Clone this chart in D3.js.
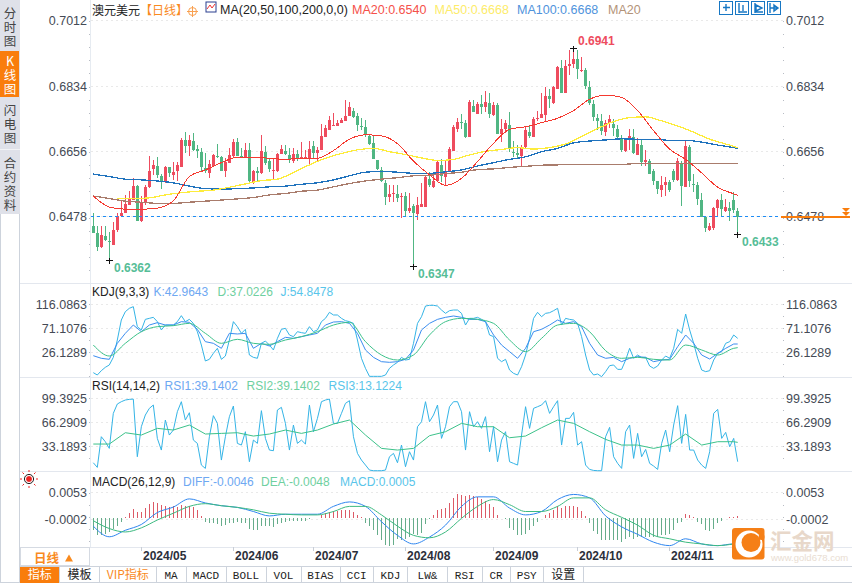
<!DOCTYPE html>
<html>
<head>
<meta charset="utf-8">
<style>
  html, body { margin: 0; padding: 0; background: #fff; overflow: hidden; }
  text { font-family: "Liberation Sans", Arial, sans-serif; }
  .cjk { font-family: "Noto Sans CJK SC", "Liberation Sans", sans-serif; }
  .side { writing-mode: vertical-rl; text-orientation: upright; letter-spacing: 1.5px; }
</style>
<script src="https://cdnjs.cloudflare.com/ajax/libs/d3/7.8.5/d3.min.js"></script>
</head>
<body>
<div id="chart"></div>
<script>
// prices are in 1/10000 of a dollar, macd values too
var opens = [6457,6438,6399,6429,6416,6405,6444,6484,6493,6514,
  6526,6564,6470,6518,6563,6612,6620,6593,6576,6616,
  6596,6605,6618,6691,6675,6688,6667,6657,6614,6602,
  6621,6648,6644,6607,6627,6646,6685,6648,6643,6664,
  6577,6607,6600,6659,6634,6607,6606,6652,6661,6650,
  6634,6652,6639,6641,6639,6674,6654,6664,6700,6718,
  6732,6729,6736,6743,6756,6770,6756,6729,6725,6703,
  6682,6636,6608,6574,6534,6544,6544,6534,6538,6498,
  6511,6489,6509,6509,6584,6563,6579,6622,6591,6604,
  6661,6722,6739,6736,6698,6783,6763,6789,6780,6793,
  6759,6786,6707,6721,6731,6658,6654,6647,6671,6712,
  6700,6747,6750,6759,6811,6792,6831,6888,6820,6892,
  6898,6911,6879,6881,6835,6789,6752,6742,6713,6736,
  6734,6720,6695,6661,6692,6698,6650,6677,6631,6633,
  6606,6580,6554,6568,6576,6606,6581,6627,6562,6672,
  6572,6568,6527,6481,6445,6452,6504,6527,6498,6505,
  6527,6497];
var closes = [6438,6400,6432,6418,6414,6446,6484,6491,6517,6530,
  6564,6471,6520,6563,6607,6623,6596,6576,6617,6602,
  6604,6623,6691,6675,6691,6664,6661,6618,6605,6626,
  6650,6644,6607,6632,6650,6685,6646,6644,6664,6580,
  6607,6602,6662,6627,6612,6610,6652,6666,6652,6639,
  6652,6643,6644,6644,6666,6654,6664,6703,6723,6745,
  6733,6736,6745,6757,6780,6754,6732,6727,6704,6680,
  6639,6612,6579,6535,6544,6545,6532,6538,6498,6505,
  6491,6514,6516,6591,6568,6579,6631,6592,6606,6666,
  6725,6741,6736,6700,6795,6767,6789,6780,6795,6761,
  6786,6707,6721,6738,6665,6654,6649,6671,6718,6701,
  6748,6751,6761,6811,6804,6836,6889,6820,6892,6898,
  6911,6884,6883,6839,6793,6754,6743,6715,6736,6747,
  6724,6698,6663,6692,6701,6656,6680,6631,6636,6598,
  6580,6556,6568,6576,6554,6581,6633,6565,6674,6580,
  6571,6530,6480,6450,6456,6506,6527,6502,6507,6497,
  6500,6481];
var highs = [6491,6455,6455,6455,6441,6468,6491,6527,6541,6552,
  6588,6568,6537,6567,6647,6637,6644,6598,6621,6618,
  6630,6630,6696,6712,6705,6709,6677,6668,6655,6637,
  6652,6679,6646,6641,6670,6694,6697,6668,6682,6682,
  6609,6618,6704,6674,6641,6641,6654,6677,6677,6670,
  6668,6663,6686,6663,6688,6688,6672,6734,6732,6757,
  6764,6745,6750,6800,6795,6779,6765,6750,6745,6706,
  6703,6636,6618,6582,6568,6568,6568,6547,6550,6545,
  6516,6536,6573,6595,6604,6604,6636,6640,6633,6672,
  6732,6750,6761,6745,6800,6801,6795,6813,6824,6818,
  6795,6791,6747,6745,6767,6689,6677,6677,6725,6731,
  6754,6771,6820,6836,6829,6838,6893,6909,6909,6936,
  6941,6936,6916,6886,6851,6800,6763,6761,6745,6759,
  6747,6731,6704,6695,6721,6722,6695,6691,6663,6640,
  6613,6580,6592,6591,6581,6613,6641,6634,6689,6677,
  6598,6577,6545,6483,6463,6509,6531,6543,6531,6522,
  6550,6504];
var lows = [6438,6388,6397,6416,6362,6405,6441,6482,6493,6514,
  6526,6471,6466,6514,6559,6596,6587,6557,6573,6591,
  6582,6579,6618,6655,6648,6661,6643,6607,6600,6588,
  6618,6641,6607,6591,6627,6641,6646,6641,6641,6577,
  6571,6577,6597,6623,6603,6584,6604,6652,6650,6629,
  6627,6634,6639,6639,6620,6639,6634,6664,6700,6718,
  6731,6729,6736,6743,6756,6752,6716,6718,6700,6677,
  6639,6609,6575,6514,6521,6523,6523,6479,6482,6491,
  6347,6473,6509,6509,6563,6561,6577,6577,6565,6604,
  6661,6713,6722,6695,6698,6767,6761,6763,6766,6751,
  6757,6707,6684,6709,6659,6645,6643,6620,6670,6695,
  6700,6743,6750,6741,6777,6790,6831,6820,6820,6868,
  6886,6857,6875,6830,6786,6742,6718,6704,6701,6724,
  6701,6695,6659,6659,6663,6652,6650,6620,6621,6598,
  6568,6543,6536,6538,6550,6577,6580,6511,6562,6563,
  6550,6513,6480,6441,6443,6445,6481,6481,6495,6471,
  6491,6433];

// moving averages, read every 4th candle plus the last one
var ma20 = [6538,6508,6502,6502,6505,6525,6591,6609,6629,6644,6644,6641,6638,6641,6641,6662,6693,6705,6702,6681,6633,
  6596,6567,6586,6632,6682,6720,6727,6738,6750,6771,6802,6813,6807,6771,6716,6666,6638,6601,6562,6544,6540];
// ma50 begins later, on candle 6
var ma50 = [6531,6531,6533,6541,6547,6551,6554,6562,6571,6580,6584,6602,6623,6641,6654,6664,6668,6659,6651,6642,
  6635,6638,6650,6660,6665,6670,6666,6670,6680,6700,6722,6741,6752,6754,6743,6729,6712,6693,6680,6670];
var ma100 = [6598,6591,6584,6582,6579,6574,6565,6558,6557,6558,6560,6563,6565,6570,6574,6582,6593,6603,6605,6603,6600,
  6600,6604,6609,6620,6629,6638,6645,6659,6668,6683,6688,6691,6694,6693,6693,6690,6690,6685,6677,6670,6668];
var ma200 = [6538,6531,6524,6521,6518,6518,6521,6524,6527,6530,6534,6541,6545,6551,6554,6563,6572,6579,6584,6588,6593,
  6595,6599,6603,6610,6612,6616,6619,6622,6623,6624,6624,6624,6624,6627,6627,6627,6627,6627,6627,6627,6627];

var kdjJ = [-12.6,-17,-8.9,-2.6,1.8,16.1,48.6,86.1,101.7,108,111.1,73.6,67.4,87.3,89.2,91.1,83,67.4,76.7,76.7,
  76.7,83,94.2,83,87.3,79.8,64.2,39.2,9.3,12.4,23.6,33,12.4,18.6,48.6,83,73.6,61.1,68.6,20.5,
  16.1,14.3,42.4,46.7,39.2,29.9,51.7,68.6,70.5,
  58,54.9,64.2,62.4,61.1,73.6,64.2,67.4,83,89.2,100.5,95.5,95.5,89.2,84.8,83,79.8,48.6,14.3,-4.5,
  -19.5,-19.5,-19.5,-19.5,-17,-4.5,1.8,6.8,16.1,11.1,12.4,42.4,79.8,92.3,112.3,113.6,113.6,112.3,104.8,98.6,
  103.6,104.8,104.8,98.6,76.7,89.2,89.2,91.1,87.3,83,58,54.9,14.3,8,12.4,-7.6,-13.9,-17,-1.4,20.5,
  51.7,89.2,100.5,92.3,98.6,99.8,103.6,108,76.7,89.2,
  87.3,86.1,79.8,54.9,20.5,-7.6,-17,-15.1,-20.1,-10.7,0.5,1.8,-6.4,-6.4,11.1,33,14.3,20.5,15.5,16.1,
  -0.1,-4.5,-0.1,11.1,18.6,14.3,33,68.6,61.1,97.3,67.4,42.4,14.3,-7.6,-10.7,-8.9,11.1,23.6,26.8,42.4,45.5,58,51.7];
// K is read every 2nd candle plus the last one
var kdjK = [19.2,14.3,12.4,42.4,61.1,76.7,64.2,76.7,81.1,76.7,76.7,83,81.7,68.6,45.5,42.4,33,61.1,59.9,61.1,33,42.4,37.4,45.5,53.6,
  51.7,54.9,58,61.1,76.7,82.3,83,79.8,61.1,29.9,16.1,8,6.8,8,12.4,29.9,67.4,79.8,87.3,91.1,93.6,91.1,87.3,87.3,83,58,39.2,26.8,14.3,33,64.2,68.6,76.7,86.1,79.8,
  83,73.6,42.4,20.5,14.3,16.1,8,14.3,17.4,16.1,8,11.1,12.4,36.1,58,42.4,20.5,13,23.6,33,41.1,41.1];
// D every 4th candle plus the last one
var kdjD = [39.2,18.6,42.4,64.2,73.6,75.5,79.8,61.1,42.4,49.9,42.4,40.5,48.6,
  54.9,64.2,76.7,81.7,45.5,20.5,11.1,20.5,58,83,89.2,87.3,79.8,48.6,26.8,51.7,76.7,
  79.8,64.2,28.6,14.3,16.1,12.4,11.1,39.2,29.9,20.5,33,34.3];

var rsi3 = [10.1,3.7,46,39.1,29.9,78.2,91.1,94.3,96.6,97.5,97.9,18.4,59.8,75.9,85.1,89.7,43.7,27.6,69,48.3,
  55.2,80.5,94.3,69,79.1,41.4,36.8,6.9,2.3,46,75,64.4,13.8,46,73.6,88.3,36.8,34.5,52.9,11.5,
  41.4,36.8,81.9,43.7,27.6,26.7,82.8,86.5,64.4,
  27.6,62.1,36.8,41.4,35.9,89.7,52.9,71.3,94.3,96.6,97.9,64.4,64.4,78.2,92,95.7,46,23,13.8,6.9,
  0,-0.9,-0.9,-0.9,0,18.4,23,10.1,34.5,4.6,25.3,13.8,59.8,66.7,94.3,66.7,75.9,89.7,43.7,59.8,
  87.4,94.3,94.3,80.5,27.6,80.5,59.8,66.7,57.5,73.6,25.3,59.8,11.5,41.4,52.9,11.5,9.2,6.9,48.3,87.4,
  57.5,85.1,87.4,89.7,95.7,78.2,87.4,95.7,34.5,71.3,
  71.3,79.6,34.5,39.1,6.9,0.9,-0.5,-0.9,-0.9,46,58.9,18.4,9.2,2.3,52.9,62.1,16.1,50.6,18.4,28.5,
  9.2,5.5,0.9,36.8,55.2,25.3,62.1,88.8,36.8,76.8,27.6,27.6,13.8,6.9,2.3,25.3,78.2,83.7,43.7,52,32.2,43.7,11.5];
// RSI1 and RSI2 are the same line here, read every 4th candle plus the last one
var rsi2 = [35.9,35.9,51.5,48.3,57.5,55.2,62.1,49.7,50.6,51.5,46.9,49.7,55.2,
  50.6,55.2,63.5,69,48.3,29.9,27.6,29.9,47.4,52.9,64.4,59.8,59.8,44.6,46.9,58.4,69,
  64.4,52.9,42.3,34.5,34.5,29.9,34.5,49.7,34.5,39.1,39.1,38.2];

var macdBars = [-24.7,-35.2,-35.2,-31.7,-28.2,-21.1,-16.2,-7,3.5,10.6,19.8,12.7,14.1,21.2,30.3,33.9,31.8,28.2,26.1,23.3,
  24.7,23.3,26.8,26.1,24.7,23.3,17.6,5,-7,-9.1,-9.1,-11.9,-16.2,-14.1,-9.1,-9.1,-8.4,-10.5,-10.5,-21.1,
  -23.2,-24.7,-16.2,-16.2,-16.2,-17.6,-12.7,-10.5,-7,
  -4.9,-4.9,-4.9,-4.9,-6.3,-2.1,1,1,7.1,10.6,14.1,15.5,15.5,16.2,16.2,16.2,14.1,7.1,2.1,-10.5,
  -16.2,-23.2,-35.2,-45.8,-54.9,-56.4,-54.9,-42.3,-44.4,-42.3,-38.7,-33.1,-35.2,-29.6,-12.7,-2.1,7.1,17.6,19,21.2,
  31.8,42.3,49.4,48,45.9,47.3,45.9,44.4,40.2,35.3,30.3,22.6,7.1,1,-2.1,-19,-24.7,-35.2,-35.2,-31.7,
  -24.7,-16.2,-8.4,1,7.1,12,17.6,24.7,21.2,26.1,
  24.7,24.7,23.3,15.5,5,-10.5,-26,-31.7,-44.4,-44.4,-44.4,-44.4,-44.4,-49.3,-42.3,-38.7,-42.3,-38.7,-38.7,-38.7,
  -38.7,-38.7,-38.7,-35.2,-35.2,-31.7,-23.2,-10.5,-7,9.2,7.1,2.1,-7,-11.9,-23.2,-26,-21.1,-9.1,-4.9,0.5,2.1,2.1,4];
var macdDiff = [-16.2,-38.1,-24.7,-12.7,12,23.3,40.2,31.8,26.1,22.6,14.1,5,8.5,
  8.5,8.5,24.7,33.9,24.7,-7,-35.2,-52.9,-38.7,-14.1,24.7,44.4,44.4,21.2,7.1,14.1,38.8,
  49.4,42.3,5,-17.6,-33.1,-49.3,-56.4,-42.3,-52.9,-56.4,-52.9,-52.9];
var macdDea = [-4.9,-21.1,-28.2,-19.7,-3.5,10.6,24.7,30.3,26.1,22.6,17.6,10.6,8.5,
  7.1,7.1,14.1,24.7,24.7,7.1,-16.2,-35.2,-40.2,-28.2,0,24.7,38.8,28.2,14.1,14.1,24.7,
  42.3,42.3,17.6,2.1,-14.1,-35.2,-42.3,-49.3,-52.9,-56.4,-52.9,-51.5];

var priceTicks = [7012, 6834, 6656, 6478];
var kdjTicks = [116.0863, 71.1076, 26.1289];
var rsiTicks = [99.3925, 66.2909, 33.1893];
var macdTicks = [53, -2];

var monthLabels = ["2024/05", "2024/06", "2024/07", "2024/08", "2024/09", "2024/10", "2024/11"];
var monthStart = [12, 35, 55, 78, 100, 121, 144];

var extremeIndex = [4, 80, 120, 161];
var extremeLabels = ["0.6362", "0.6347", "0.6941", "0.6433"];

var bottomTabs = ["指标", "模板", "VIP指标", "MA", "MACD", "BOLL", "VOL", "BIAS", "CCI", "KDJ", "LW&", "RSI", "CR", "PSY", "设置"];
var bottomEdges = [20, 59.5, 99.5, 156, 186, 226, 266, 301, 340, 373.5, 407.5, 447.5, 482, 510, 543.5, 583];

var sideTabs = ["分时图", "K线图", "闪电图", "合约资料"];
var sideTop = [7, 55, 104, 157];

var w = 852;
var h = 583;
var red = "#ee4c5e";
var green = "#50b683";

var svg = d3.select("#chart").append("svg").attr("width", w).attr("height", h).style("display", "block");

var xScale = d3.scaleLinear().domain([0, 161]).range([93.3, 737.7]);
var yPrice = d3.scaleLinear().domain([6478, 6941]).range([218, 48.3]);
var yKdj = d3.scaleLinear().domain([26.1289, 116.0863]).range([352, 304]);
var yRsi = d3.scaleLinear().domain([33.1893, 99.3925]).range([446, 398]);
var yMacd = d3.scaleLinear().domain([-2, 53]).range([519.3, 492.7]);

function everyFour() {
  // candle numbers for a line read every 4th candle, last candle added
  var idx = d3.range(0, 161, 4);
  idx.push(161);
  return idx;
}

function drawLine(values, idx, y, color, width, curve, crisp) {
  var line = d3.line()
    .x(function(d, i) { return xScale(idx[i]); })
    .y(function(d) { return y(d); });
  if (curve) line.curve(d3.curveMonotoneX);
  svg.append("path")
    .datum(values)
    .attr("d", line)
    .attr("fill", "none")
    .attr("stroke", color)
    .attr("stroke-width", width)
    .attr("shape-rendering", crisp ? "crispEdges" : "auto");
}

function label(x, y, str, color, size, anchor, weight, cls) {
  return svg.append("text")
    .attr("x", x).attr("y", y)
    .attr("fill", color)
    .attr("font-size", size)
    .attr("font-weight", weight || "normal")
    .attr("text-anchor", anchor || "start")
    .attr("class", cls || null)
    .text(str);
}

function hline(x1, x2, y, color, dash) {
  svg.append("line")
    .attr("x1", x1).attr("x2", x2).attr("y1", y).attr("y2", y)
    .attr("stroke", color)
    .attr("stroke-dasharray", dash || null)
    .attr("shape-rendering", "crispEdges");
}

function vline(x, y1, y2, color, dash) {
  svg.append("line")
    .attr("x1", x).attr("x2", x).attr("y1", y1).attr("y2", y2)
    .attr("stroke", color)
    .attr("stroke-dasharray", dash || null)
    .attr("shape-rendering", "crispEdges");
}

function panelAxes(y, ticks, fmt, shift, top, bottom, dots) {
  var left = d3.axisLeft(y).tickValues(ticks).tickFormat(fmt).tickSize(0).tickPadding(0);
  var right = d3.axisRight(y).tickValues(ticks).tickFormat(fmt).tickSize(0).tickPadding(0);

  var gl = svg.append("g").attr("transform", "translate(87," + shift + ")").call(left);
  var gr = svg.append("g").attr("transform", "translate(786," + shift + ")").call(right);
  [gl, gr].forEach(function(g) {
    g.select(".domain").remove();
    g.selectAll("text").attr("font-size", 12.5).attr("fill", "#444a55").attr("font-family", "Liberation Sans");
  });

  ticks.forEach(function(t) {
    hline(91, 783, Math.floor(y(t) + shift) + 0.5, "#e9e9e9", "2,3");
  });
  vline(89.5, top, bottom, "#b8bcc4", "1," + dots);
  vline(783.5, top, bottom, "#b8bcc4", "1," + dots);
}

// page frame
svg.append("rect").attr("x", 0).attr("y", 0).attr("width", 20).attr("height", 214).attr("fill", "#dfe1e9");
svg.append("rect").attr("x", 0).attr("y", 51).attr("width", 19).attr("height", 46).attr("fill", "#f97d0c");
hline(0, 20, 149.5, "#f2f3f6");
vline(0.5, 214, h, "#cdd3dc");
vline(19.5, 214, h, "#cdd3dc");
vline(90.5, 0, 547, "#e6ebf1");
[283.5, 377.5, 471.5, 547.5].forEach(function(y) { hline(20, w, y, "#e3e7ee"); });

sideTabs.forEach(function(t, i) {
  svg.append("text")
    .attr("class", "side cjk")
    .attr("x", 10).attr("y", sideTop[i])
    .attr("font-size", 12.5)
    .attr("fill", i === 1 ? "#fff" : "#444")
    .text(t);
});

// axes and grid
var priceFmt = function(d) { return (d / 10000).toFixed(4); };
var plainFmt = function(d) { return d.toFixed(4); };
panelAxes(yPrice, priceTicks, priceFmt, -1.3, 21, 272, 12.1);
panelAxes(yKdj, kdjTicks, plainFmt, 0, 304, 378, 11);
panelAxes(yRsi, rsiTicks, plainFmt, 0, 398, 470, 11);
panelAxes(yMacd, macdTicks, priceFmt, 0, 493, 546, 11);

// candles
var candleIdx = d3.range(0, opens.length);
var candles = svg.append("g").selectAll("g").data(candleIdx).enter().append("g")
  .attr("shape-rendering", "crispEdges");
candles.append("line")
  .attr("x1", function(i) { return Math.floor(xScale(i)) + 0.5; })
  .attr("x2", function(i) { return Math.floor(xScale(i)) + 0.5; })
  .attr("y1", function(i) { return yPrice(highs[i]); })
  .attr("y2", function(i) { return yPrice(lows[i]); })
  .attr("stroke", function(i) { return closes[i] >= opens[i] ? red : green; });
candles.append("rect")
  .attr("x", function(i) { return Math.floor(xScale(i)) - 1; })
  .attr("width", 3)
  .attr("y", function(i) { return yPrice(Math.max(opens[i], closes[i])); })
  .attr("height", function(i) { return Math.max(1, Math.abs(yPrice(opens[i]) - yPrice(closes[i]))); })
  .attr("fill", function(i) { return closes[i] >= opens[i] ? red : green; });

// moving averages
var maIdx = everyFour();
var ma50Idx = d3.range(6, 160, 4);
ma50Idx.push(161);
drawLine(ma200, maIdx, yPrice, "#a97c6c", 1.3, true, true);
drawLine(ma100, maIdx, yPrice, "#1f72bd", 1.3, true, true);
drawLine(ma50, ma50Idx, yPrice, "#fdec3c", 1.3, true, true);
drawLine(ma20, maIdx, yPrice, "#f5392f", 1, true, true);

// current price
var lastY = Math.floor(yPrice(closes[closes.length - 1])) + 0.5;
hline(91, 781, lastY, "#1e8cf5", "3,3");
hline(781, 850, lastY, "#f97d0c");
hline(781, 850, lastY + 1, "#f97d0c");
svg.append("path").attr("d", "M842 208h8l-4 4z M842 212h8l-4 4z").attr("fill", "#f97d0c");

// high and low marks
extremeIndex.forEach(function(idx, n) {
  var isHigh = highs[idx] === d3.max(highs);
  var v = isHigh ? highs[idx] : lows[idx];
  var cx = Math.floor(xScale(idx)) + 0.5;
  var cy = Math.floor(yPrice(v)) + 0.5;
  hline(cx - 3.5, cx + 3.5, cy, "#111");
  vline(cx, cy - 3, cy + 3, "#111");
  var lx = [114, 418, 578, 742][n];
  var ly = [272, 278, 45, 246][n];
  label(lx, ly, extremeLabels[n], isHigh ? red : "#56bd97", 12, "start", "bold");
});

// KDJ
drawLine(kdjJ, candleIdx, yKdj, "#34b4e6", 1);
var kIdx = d3.range(0, 161, 2);
kIdx.push(161);
drawLine(kdjK, kIdx, yKdj, "#3a8df0", 1);
drawLine(kdjD, maIdx, yKdj, "#3cc28a", 1, true);

// RSI
drawLine(rsi3, candleIdx, yRsi, "#34b4e6", 1);
drawLine(rsi2, maIdx, yRsi, "#3cc28a", 1);

// MACD
svg.append("g").selectAll("line").data(macdBars).enter().append("line")
  .attr("x1", function(d, i) { return Math.floor(xScale(i)) + 0.5; })
  .attr("x2", function(d, i) { return Math.floor(xScale(i)) + 0.5; })
  .attr("y1", yMacd(0))
  .attr("y2", function(d) { return yMacd(d); })
  .attr("stroke", function(d) { return d >= 0 ? "#dc5a66" : "#66ad8b"; })
  .attr("shape-rendering", "crispEdges");
drawLine(macdDiff, maIdx, yMacd, "#2e86f0", 1, true);
drawLine(macdDea, maIdx, yMacd, "#3cba80", 1, true);

// legends
label(92, 15, "澳元美元", "#222", 12, "start", "normal", "cjk");
label(140, 15, "【日线】", "#f98a1e", 12, "start", "normal", "cjk");
svg.append("circle").attr("cx", 192.5).attr("cy", 11.5).attr("r", 4).attr("fill", "none").attr("stroke", "#f9a050");
hline(187, 198, 11.5, "#f9a050");
vline(192.5, 6, 17, "#f9a050");
svg.append("rect").attr("x", 206).attr("y", 2).attr("width", 10).attr("height", 10).attr("fill", "#fff").attr("stroke", "#2a3f8f");
svg.append("path").attr("d", "M207 9l3-4 2 3 3-4").attr("fill", "none").attr("stroke", "#e33");
label(220, 14, "MA(20,50,100,200,0,0)", "#222", 12.5);
label(352, 14, "MA20:0.6540", "#f5504a", 12.5);
label(434.5, 14, "MA50:0.6668", "#fdec6a", 12.5);
label(517, 14, "MA100:0.6668", "#4f93dc", 12.5);
label(608, 14, "MA20", "#b39378", 12.5);

[719, 735, 751, 767].forEach(function(x, i) {
  svg.append("rect").attr("x", x + 0.5).attr("y", 1.5).attr("width", 13).attr("height", 13)
    .attr("fill", "#fff").attr("stroke", "#1777c4").attr("shape-rendering", "crispEdges");
  var glyph = ["M726 4v7M723 7.5h7", "M739 3v10M739 12h8M743 5v6", "M755 3v10M755 12h8M756 5l6 3-6 3z", "M770 3v10M770 8h7M774 5l4 3-4 3z"][i];
  svg.append("path").attr("d", glyph).attr("fill", "none").attr("stroke", "#1777c4").attr("stroke-width", 1.4);
});

label(92, 296, "KDJ(9,3,3)", "#222", 12);
label(153.5, 296, "K:42.9643", "#6ea8f2", 12);
label(217.5, 296, "D:37.0226", "#6fd0a0", 12);
label(280.5, 296, "J:54.8478", "#59c5ea", 12);
label(92, 390, "RSI(14,14,2)", "#222", 12);
label(164.5, 390, "RSI1:39.1402", "#6ea8f2", 12);
label(246.5, 390, "RSI2:39.1402", "#6fd0a0", 12);
label(328.5, 390, "RSI3:13.1224", "#59c5ea", 12);
label(92, 486, "MACD(26,12,9)", "#222", 12);
label(183, 486, "DIFF:-0.0046", "#6ea8f2", 12);
label(261, 486, "DEA:-0.0048", "#6fd0a0", 12);
label(340, 486, "MACD:0.0005", "#59c5ea", 12);

// small red sun near the macd panel
svg.append("circle").attr("cx", 29).attr("cy", 479).attr("r", 3.5).attr("fill", "#e22").attr("stroke", "#fff");
svg.append("circle").attr("cx", 29).attr("cy", 479).attr("r", 4.6).attr("fill", "none").attr("stroke", "#222");
svg.append("path").attr("d", "M29 472v-2M29 486v2M22 479h-2M36 479h2M24 474l-1.5-1.5M34 474l1.5-1.5M24 484l-1.5 1.5M34 484l1.5 1.5")
  .attr("stroke", "#e22").attr("fill", "none");

// time axis
monthStart.forEach(function(idx, i) {
  var x = Math.floor(xScale(idx)) + 0.5;
  vline(x, 547, 551, "#c9ced6");
  label(x + 1.5, 560, monthLabels[i], "#2b2f3a", 12, "start", "bold");
});

// period button
svg.append("rect").attr("x", 20.5).attr("y", 547.5).attr("width", 69).attr("height", 18)
  .attr("fill", "#fff").attr("stroke", "#d5dae2").attr("shape-rendering", "crispEdges");
label(34, 563, "日线", "#f98a1e", 12.5, "start", "bold", "cjk");
svg.append("path").attr("d", "M65 561.5l4-7 4 7z").attr("fill", "#f98a1e");

// bottom tabs
hline(20, w, 566.5, "#cdd3dc");
hline(0, w, 582.5, "#cdd3dc");
bottomTabs.forEach(function(t, i) {
  var x0 = bottomEdges[i];
  var x1 = bottomEdges[i + 1];
  if (i === 0) {
    svg.append("rect").attr("x", x0).attr("y", 567).attr("width", x1 - x0).attr("height", 16).attr("fill", "#f97d0c");
  }
  vline(Math.floor(x1) + 0.5, 567, 583, "#cdd3dc");
  var isCjk = /[^\x00-\x7f]/.test(t);
  var color = i === 0 ? "#fff" : (i === 2 ? "#f98a1e" : "#222");
  var txt = label((x0 + x1) / 2, 579, t, color, isCjk ? 12 : 11, "middle", "normal", isCjk ? "cjk" : null);
  if (!isCjk) txt.attr("font-family", "Liberation Mono").style("font-family", "Liberation Mono");
});

// watermark
svg.append("rect").attr("x", 732).attr("y", 528).attr("width", 32.5).attr("height", 31.5).attr("rx", 3).attr("fill", "#f57f17");
svg.append("circle").attr("cx", 749).attr("cy", 544).attr("r", 13.5).attr("fill", "#fff");
svg.append("circle").attr("cx", 751).attr("cy", 542.5).attr("r", 9.5).attr("fill", "#f57f17");
svg.append("circle").attr("cx", 761.5).attr("cy", 537).attr("r", 3).attr("fill", "#f57f17");
label(770, 549, "汇金网", "#e8d8ca", 21.5, "start", "bold", "cjk");
label(771, 561, "www.gold678.com", "#e9ddd2", 9.5);
</script>
</body>
</html>
